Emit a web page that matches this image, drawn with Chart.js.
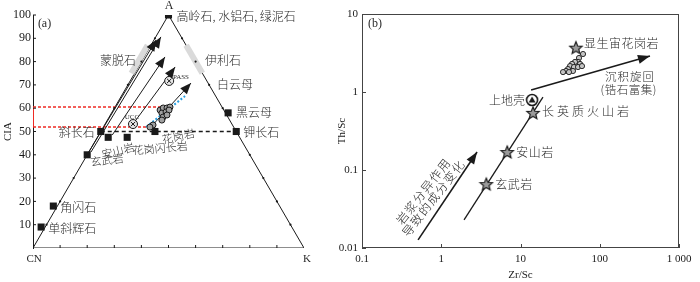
<!DOCTYPE html>
<html>
<head>
<meta charset="utf-8">
<script src="https://cdn.jsdelivr.net/npm/chart.js@4/dist/chart.umd.min.js"></script>
<style>
  html, body { margin: 0; padding: 0; background: #fff; }
  #wrap { position: relative; width: 700px; height: 282px; overflow: hidden; }
  #ternary { position: absolute; left: 0; top: 0; }
  #ratio { position: absolute; left: 325px; top: 0; }
</style>
</head>
<body>
<div id="wrap">
  <canvas id="ternary" width="325" height="282"></canvas>
  <canvas id="ratio" width="375" height="282"></canvas>
</div>
<script>
// ---------- panel (a): A-CN-K, A and K in % ----------
const mineralNames = ["高岭石, 水铝石, 绿泥石", "黑云母", "钾长石", "斜长石", "角闪石", "单斜辉石"];
const mineralA = [100, 58, 50, 50, 18, 9];
const mineralK = [0, 43, 50, 0, -1.5, -1.5];

const rockNames = ["玄武岩", "安山岩", "花岗闪长岩", "花岗岩"];
const rockA = [40, 47.5, 47.5, 50];
const rockK = [0, 4, 11, 20];

const sampleA = [59.2, 60.1, 60.1, 60.5, 57.9, 58.4, 59.2, 56.2, 57.1, 54.9, 52.8, 51.9];
const sampleK = [17.3, 18.0, 19.4, 20.3, 18.6, 19.9, 20.6, 19.9, 20.9, 20.1, 17.9, 17.2];

const refNames = ["UCC", "PASS"];
const refA = [53.2, 71.7];
const refK = [10.3, 14.4];

// weathering trends (start -> end)
const trendStartA = [41.2, 41.2, 48.5, 53.2, 51.5];
const trendStartK = [0, 0.8, 5.0, 10.3, 17.4];
const trendEndA = [89.3, 90.6, 82.0, 77.7, 70.8];
const trendEndK = [0.8, 1.9, 7.7, 13.6, 22.9];

// smectite / illite bands along the sides
const clayA = [75, 87];

// blue dotted sample trend
const sampleTrendA = [51.9, 65.2];
const sampleTrendK = [15.8, 23.5];

const ciaTicks = [10, 20, 30, 40, 50, 60, 70, 80, 90, 100];

// ---------- panel (b): Th/Sc vs Zr/Sc ----------
const rockRatioNames = ["显生宙花岗岩", "长英质火山岩", "安山岩", "玄武岩"];
const rockZrSc = [50, 14.4, 6.8, 3.7];
const rockThSc = [3.7, 0.54, 0.17, 0.066];

const crustName = "上地壳";
const crustZrSc = [14];
const crustThSc = [0.79];

const sampleZrSc = [61.5, 54.7, 53.2, 48.7, 44.7, 56.4, 42.2, 47.3, 53.2, 59.7, 39.7, 37.5, 34.4, 45.9, 40.9];
const sampleThSc = [3.07, 2.73, 2.43, 2.43, 2.29, 2.29, 2.15, 2.09, 2.09, 2.15, 1.97, 1.86, 1.80, 1.86, 1.80];

const magmaLineZrSc = [1.94, 19.2];
const magmaLineThSc = [0.0229, 0.86];
const fracArrowZrSc = [0.51, 2.83];
const fracArrowThSc = [0.0127, 0.17];
const sortArrowZrSc = [13.6, 430];
const sortArrowThSc = [1.06, 2.89];

const xTickValues = [0.1, 1, 10, 100, 1000];
const xTickLabels = ["0.1", "1", "10", "100", "1 000"];
const yTickValues = [0.01, 0.1, 1, 10];
const yTickLabels = ["0.01", "0.1", "1", "10"];

// ---------- helpers ----------
const SERIF = "'Liberation Serif', 'Noto Sans CJK SC', serif";
const CJK = "'Noto Sans CJK SC', sans-serif";
const INK = "#1a1a1a";

const T = (a, k) => ({ x: k + a / 2, y: a });

const line = (data, extra) => Object.assign({
  data, showLine: true, pointRadius: 0, pointHoverRadius: 0,
  borderColor: INK, borderWidth: 1, fill: false
}, extra);

function drawLabel(ctx, text, x, y, o) {
  o = o || {};
  ctx.save();
  ctx.translate(x, y);
  if (o.rot) ctx.rotate(o.rot * Math.PI / 180);
  const fam = o.family || CJK;
  ctx.font = (fam === CJK ? "300 " : "") + (o.size || 11.5) + "px " + fam;
  ctx.letterSpacing = (o.spacing || 0) + "px";
  ctx.fillStyle = o.color || "#2a2a2a";
  ctx.textAlign = o.align || "left";
  ctx.textBaseline = "middle";
  ctx.fillText(text, 0, 0);
  ctx.restore();
}

// filled arrow head at the last point of datasets that have `arrow`
const arrowHeads = {
  id: "arrowHeads",
  afterDatasetsDraw(chart) {
    const ctx = chart.ctx;
    chart.data.datasets.forEach((ds, i) => {
      if (!ds.arrow) return;
      const pts = chart.getDatasetMeta(i).data;
      const p = pts[pts.length - 1], q = pts[pts.length - 2];
      const ang = Math.atan2(p.y - q.y, p.x - q.x);
      ctx.save();
      ctx.translate(p.x, p.y);
      ctx.rotate(ang);
      ctx.beginPath();
      ctx.moveTo(0, 0);
      ctx.lineTo(-ds.arrow.len, -ds.arrow.half);
      ctx.lineTo(-ds.arrow.len, ds.arrow.half);
      ctx.closePath();
      ctx.fillStyle = INK;
      ctx.fill();
      ctx.restore();
    });
  }
};

// ---------- chart (a) ----------
const ternaryNotes = [
  // text, x, y (chart units), options
  ["A", 50.2, 103.9, { family: SERIF, size: 12, align: "center" }],
  ["CN", 0.4, -4.7, { family: SERIF, size: 11, align: "center" }],
  ["K", 101.1, -4.7, { family: SERIF, size: 11, align: "center" }],
  ["(a)", 1.8, 96.1, { family: SERIF, size: 12 }],
  ["蒙脱石", 24.7, 80.3, { size: 12 }],
  ["伊利石", 63.5, 80.3, { size: 12 }],
  ["白云母", 67.9, 70.4, { size: 12 }],
  ["玄武岩", 27.3, 37.8, { align: "center", rot: -7, size: 11 }],
  ["安山岩", 31.4, 41.8, { align: "center", rot: -14, size: 11 }],
  ["花岗闪长岩", 46.9, 42.9, { align: "center", rot: -5, size: 11 }],
  ["花岗岩", 53.6, 48.0, { align: "center", rot: -12, size: 11 }],
  ["UCC", 36.5, 56.2, { family: SERIF, size: 7, align: "center" }],
  ["PASS", 54.6, 73.4, { family: SERIF, size: 7, align: "center" }]
];
// label offsets (px) from each mineral marker
const mineralLabelOffset = [[8, 1, "left"], [8, 0, "left"], [7, 1, "left"], [-6, 1, "right"], [7, 1, "left"], [7, 1, "left"]];

const ternaryDecor = {
  id: "ternaryDecor",
  afterDatasetsDraw(chart) {
    const ctx = chart.ctx;
    const xs = chart.scales.x, ys = chart.scales.y;
    const px = (p) => [xs.getPixelForValue(p.x), ys.getPixelForValue(p.y)];
    ctx.save();
    ctx.strokeStyle = INK;
    ctx.fillStyle = INK;
    ctx.lineWidth = 1;
    // inner ticks on CIA axis
    ciaTicks.forEach(v => {
      const y = ys.getPixelForValue(v);
      ctx.beginPath();
      ctx.moveTo(xs.left, y);
      ctx.lineTo(xs.left + 3, y);
      ctx.stroke();
    });
    // 10 % marks on the triangle sides
    for (let i = 1; i < 10; i++) {
      const [bx, by] = px(T(0, i * 10));
      ctx.beginPath();
      ctx.moveTo(bx, by);
      ctx.lineTo(bx, by - 3);
      ctx.stroke();
      [T(i * 10, 0), T(i * 10, 100 - i * 10)].forEach(p => {
        const [sx, sy] = px(p);
        ctx.beginPath();
        ctx.arc(sx, sy, 1.1, 0, Math.PI * 2);
        ctx.fill();
      });
    }
    ctx.restore();

    mineralNames.forEach((name, i) => {
      const [mx, my] = px(T(mineralA[i], mineralK[i]));
      const o = mineralLabelOffset[i];
      drawLabel(ctx, name, mx + o[0], my + o[1], { align: o[2], size: 12 });
    });
    ternaryNotes.forEach(n => {
      drawLabel(ctx, n[0], xs.getPixelForValue(n[1]), ys.getPixelForValue(n[2]), n[3]);
    });
  }
};

const maxI = sampleA.indexOf(Math.max(...sampleA));
const minI = sampleA.indexOf(Math.min(...sampleA));
const topSample = T(sampleA[maxI], sampleK[maxI]);
const lowSample = T(sampleA[minI], sampleK[minI]);

const ternaryDatasets = [
  line([T(0, 0), T(100, 0), T(0, 100), T(0, 0)], { order: 10 }),
  line([T(clayA[0], -1.2), T(clayA[1], -1.2)], { borderColor: "#dadada", borderWidth: 6, order: 9 }),
  line([T(clayA[0], 100 - clayA[0]), T(clayA[1], 100 - clayA[1])], { borderColor: "#dadada", borderWidth: 6, order: 9 }),
  line([T(mineralA[3], mineralK[3]), T(mineralA[2], mineralK[2])], { borderDash: [4, 3], borderWidth: 1.5, order: 8 }),
  line([{ x: 0, y: topSample.y }, topSample], { borderColor: "#ee2b24", borderDash: [3, 2], borderWidth: 1.5, order: 8 }),
  line([{ x: 0, y: lowSample.y }, lowSample], { borderColor: "#ee2b24", borderDash: [3, 2], borderWidth: 1.5, order: 8 }),
  line([{ x: 0, y: lowSample.y }, { x: 0, y: topSample.y }], { borderColor: "#ee2b24", borderWidth: 2, order: 8 }),
  line([T(sampleTrendA[0], sampleTrendK[0]), T(sampleTrendA[1], sampleTrendK[1])], { borderColor: "#2a9fe0", borderDash: [2, 2], borderWidth: 2, order: 6 })
];
trendStartA.forEach((a, i) => {
  ternaryDatasets.push(line([T(a, trendStartK[i]), T(trendEndA[i], trendEndK[i])], { order: 7, arrow: { len: 11, half: 4.5 } }));
});
ternaryDatasets.push(
  { data: mineralA.map((a, i) => T(a, mineralK[i])), pointStyle: "rect", pointRadius: 5, backgroundColor: INK, borderColor: INK, borderWidth: 0, order: 2 },
  { data: rockA.map((a, i) => T(a, rockK[i])), pointStyle: "rect", pointRadius: 5, backgroundColor: INK, borderColor: INK, borderWidth: 0, order: 2 },
  { data: sampleA.map((a, i) => T(a, sampleK[i])), pointStyle: "circle", pointRadius: 3, backgroundColor: "#a0a0a0", borderColor: INK, borderWidth: 1, order: 1 },
  { data: refA.map((a, i) => T(a, refK[i])), pointStyle: "circle", pointRadius: 4.5, backgroundColor: "#e6e6e6", borderColor: INK, borderWidth: 1, order: 1 },
  { data: refA.map((a, i) => T(a, refK[i])), pointStyle: "crossRot", pointRadius: 3.2, borderColor: INK, borderWidth: 1, order: 0 }
);

new Chart(document.getElementById("ternary"), {
  type: "scatter",
  data: { datasets: ternaryDatasets },
  options: {
    responsive: false,
    animation: false,
    events: [],
    layout: { padding: { left: 0, right: 21, top: 15, bottom: 34 } },
    plugins: { legend: { display: false }, tooltip: { enabled: false } },
    scales: {
      x: { type: "linear", min: 0, max: 100, display: false },
      y: {
        type: "linear", min: 0, max: 100,
        afterFit: (s) => { s.width = 33; },
        grid: { display: false, drawTicks: false },
        border: { display: true, color: INK, width: 1 },
        ticks: {
          stepSize: 10, padding: 2, color: INK,
          font: { family: SERIF, size: 12 },
          callback: (v) => (v === 0 ? "" : v)
        },
        title: { display: true, text: "CIA", color: INK, font: { family: SERIF, size: 11 }, padding: { top: 2, bottom: 0 } }
      }
    }
  },
  plugins: [ternaryDecor, arrowHeads]
});

// ---------- chart (b) ----------
function starImage(r) {
  const c = document.createElement("canvas");
  const s = Math.ceil(2 * r + 3);
  c.width = c.height = s;
  const g = c.getContext("2d");
  g.beginPath();
  for (let i = 0; i < 10; i++) {
    const rr = i % 2 ? r * 0.45 : r;
    const a = -Math.PI / 2 + i * Math.PI / 5;
    g.lineTo(s / 2 + rr * Math.cos(a), s / 2 + 0.6 + rr * Math.sin(a));
  }
  g.closePath();
  g.fillStyle = "#9b9b9b";
  g.fill();
  g.lineWidth = 1.2;
  g.strokeStyle = INK;
  g.stroke();
  return c;
}
function crustImage(r) {
  const c = document.createElement("canvas");
  const s = Math.ceil(2 * r + 3);
  c.width = c.height = s;
  const g = c.getContext("2d");
  g.beginPath();
  g.arc(s / 2, s / 2, r, 0, Math.PI * 2);
  g.fillStyle = "#fff";
  g.fill();
  g.lineWidth = 1.6;
  g.strokeStyle = INK;
  g.stroke();
  g.beginPath();
  g.moveTo(s / 2, s / 2 - r * 0.65);
  g.lineTo(s / 2 + r * 0.62, s / 2 + r * 0.45);
  g.lineTo(s / 2 - r * 0.62, s / 2 + r * 0.45);
  g.closePath();
  g.fillStyle = INK;
  g.fill();
  return c;
}

const rockLabelOffset = [[8, -4, "left"], [9, -1, "left"], [9, 0, "left"], [9, 0, "left"]];
const ratioNotes = [
  ["(b)", 0.119, 7.44, { family: SERIF, size: 12 }],
  ["沉积旋回", 240, 1.56, { align: "center", spacing: 1 }],
  ["(锆石富集)", 232, 1.06, { align: "center", spacing: 0.5 }],
  ["岩浆分异作用", 0.597, 0.0538, { align: "center", rot: -52, spacing: 1.4, size: 12 }],
  ["导致的成分变化", 0.80, 0.0438, { align: "center", rot: -52, spacing: 1.4, size: 12 }]
];

const ratioDecor = {
  id: "ratioDecor",
  afterDatasetsDraw(chart) {
    const ctx = chart.ctx;
    const xs = chart.scales.x, ys = chart.scales.y;
    const a = chart.chartArea;
    ctx.save();
    ctx.strokeStyle = "#444";
    ctx.lineWidth = 1;
    ctx.strokeRect(a.left + 0.5, a.top + 0.5, a.right - a.left - 1, a.bottom - a.top - 1);
    xTickValues.forEach(v => {
      const x = Math.round(xs.getPixelForValue(v)) + 0.5;
      ctx.beginPath();
      ctx.moveTo(x, a.bottom);
      ctx.lineTo(x, a.bottom - 4);
      ctx.stroke();
    });
    yTickValues.forEach(v => {
      const y = Math.round(ys.getPixelForValue(v)) + 0.5;
      ctx.beginPath();
      ctx.moveTo(a.left, y);
      ctx.lineTo(a.left + 4, y);
      ctx.stroke();
    });
    ctx.restore();

    rockRatioNames.forEach((name, i) => {
      const o = rockLabelOffset[i];
      drawLabel(ctx, name, xs.getPixelForValue(rockZrSc[i]) + o[0], ys.getPixelForValue(rockThSc[i]) + o[1],
        { align: o[2], spacing: i === 1 ? 3 : 0.5, size: 12 });
    });
    drawLabel(ctx, crustName, xs.getPixelForValue(crustZrSc[0]) - 7, ys.getPixelForValue(crustThSc[0]), { align: "right", size: 12 });
    ratioNotes.forEach(n => {
      drawLabel(ctx, n[0], xs.getPixelForValue(n[1]), ys.getPixelForValue(n[2]), n[3]);
    });
  }
};

const pairs = (xv, yv) => xv.map((x, i) => ({ x, y: yv[i] }));

new Chart(document.getElementById("ratio"), {
  type: "scatter",
  data: {
    datasets: [
      line(pairs(magmaLineZrSc, magmaLineThSc), { borderWidth: 1.3, order: 5 }),
      line(pairs(fracArrowZrSc, fracArrowThSc), { borderWidth: 1.6, order: 5, arrow: { len: 12, half: 4.5 } }),
      line(pairs(sortArrowZrSc, sortArrowThSc), { borderWidth: 1.6, order: 5, arrow: { len: 12, half: 4.5 } }),
      { data: pairs(sampleZrSc, sampleThSc), pointStyle: "circle", pointRadius: 2.6, backgroundColor: "#c4c4c4", borderColor: INK, borderWidth: 0.9, order: 2 },
      { data: pairs(rockZrSc, rockThSc), pointStyle: starImage(6.5), pointRadius: 7, order: 1 },
      { data: pairs(crustZrSc, crustThSc), pointStyle: crustImage(5.5), pointRadius: 6, order: 1 }
    ]
  },
  options: {
    responsive: false,
    animation: false,
    events: [],
    layout: { padding: { left: 0, right: 21, top: 14, bottom: 0 } },
    plugins: { legend: { display: false }, tooltip: { enabled: false } },
    scales: {
      x: {
        type: "logarithmic", min: 0.1, max: 1000,
        afterFit: (s) => { s.height = 34; },
        afterBuildTicks: (s) => { s.ticks = xTickValues.map(v => ({ value: v })); },
        grid: { display: false, drawTicks: false },
        border: { display: false },
        ticks: {
          padding: 5, color: INK, maxRotation: 0, autoSkip: false,
          font: { family: SERIF, size: 11 },
          callback: (v, i) => xTickLabels[i]
        },
        title: { display: true, text: "Zr/Sc", color: INK, font: { family: SERIF, size: 11 }, padding: { top: 0, bottom: 0 } }
      },
      y: {
        type: "logarithmic", min: 0.01, max: 10,
        afterFit: (s) => { s.width = 37; },
        afterBuildTicks: (s) => { s.ticks = yTickValues.map(v => ({ value: v })); },
        grid: { display: false, drawTicks: false },
        border: { display: false },
        ticks: {
          padding: 4, color: INK, autoSkip: false,
          font: { family: SERIF, size: 11 },
          callback: (v, i) => yTickLabels[i]
        },
        title: { display: true, text: "Th/Sc", color: INK, font: { family: SERIF, size: 11 }, padding: { top: 11, bottom: 0 } }
      }
    }
  },
  plugins: [ratioDecor, arrowHeads]
});
</script>
</body>
</html>
